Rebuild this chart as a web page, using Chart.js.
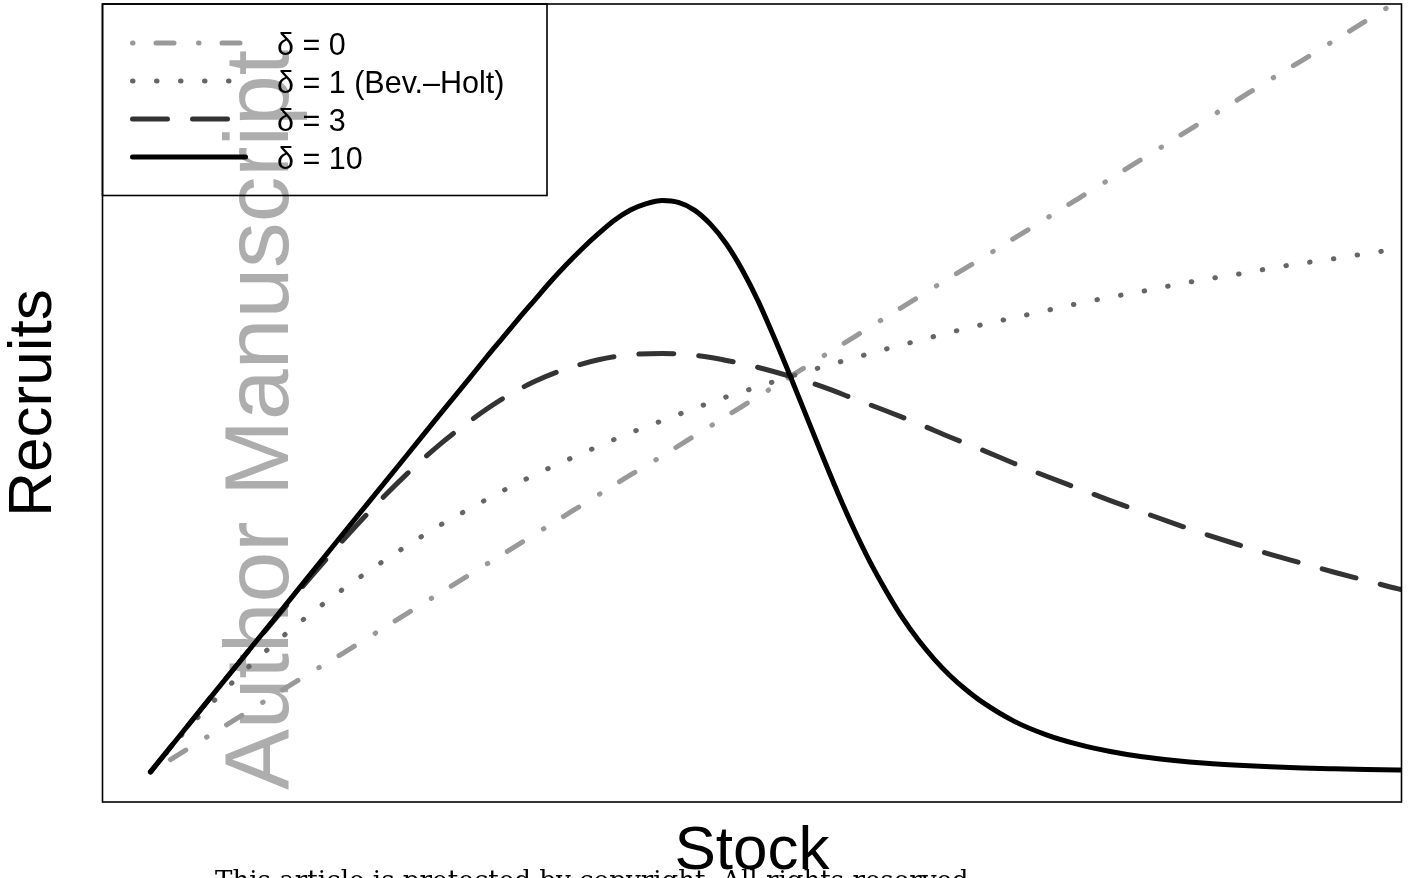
<!DOCTYPE html>
<html><head><meta charset="utf-8">
<script src="https://cdn.jsdelivr.net/npm/chart.js@4.4.1/dist/chart.umd.min.js"></script>
<style>html,body{margin:0;padding:0;background:#fff;overflow:hidden}canvas{display:block}</style>
</head><body>
<canvas id="c" width="1410" height="878"></canvas>
<script>
// Stock (x) in arbitrary units; recruits (y) for each delta
const stock = [0,0.5,1,1.5,2,2.5,3,3.5,4,4.5,5,5.5,6,6.5,7,7.5,8,8.5,9,9.5,10,10.5,11,11.5,12,12.5,13,13.5,14,14.5,15,15.5,16,16.5,17,17.5,18,18.5,19,19.5,19.6];
const rDelta0 = [0,0.31,0.62,0.93,1.24,1.55,1.85,2.16,2.47,2.78,3.09,3.40,3.71,4.02,4.33,4.64,4.94,5.25,5.56,5.87,6.18,6.49,6.80,7.11,7.42,7.73,8.03,8.34,8.65,8.96,9.27,9.58,9.89,10.20,10.51,10.82,11.12,11.43,11.74,12.05,12.11];
const rDelta1 = [0,0.59,1.12,1.61,2.06,2.47,2.85,3.20,3.53,3.84,4.12,4.39,4.64,4.87,5.09,5.30,5.49,5.68,5.86,6.02,6.18,6.33,6.47,6.61,6.74,6.87,6.99,7.10,7.21,7.32,7.42,7.51,7.61,7.70,7.78,7.87,7.95,8.02,8.10,8.17,8.18];
const rDelta3 = [0,0.62,1.24,1.85,2.45,3.04,3.61,4.15,4.65,5.10,5.49,5.83,6.10,6.30,6.44,6.52,6.54,6.51,6.43,6.32,6.18,6.02,5.83,5.64,5.44,5.23,5.03,4.82,4.62,4.43,4.24,4.06,3.88,3.71,3.55,3.40,3.26,3.12,2.99,2.86,2.84];
// the steep delta = 10 curve is read at a finer stock spacing
const stock10 = [0,1,2,3,4,4.5,5,5.25,5.5,5.75,6,6.25,6.5,6.75,7,7.25,7.5,7.75,8,8.25,8.5,8.75,9,9.25,9.5,9.75,10,10.25,10.5,10.75,11,11.25,11.5,11.75,12,12.25,12.5,12.75,13,13.5,14,14.5,15,15.5,16,16.5,17,17.5,18,18.5,19,19.5,19.6];
const rDelta10 = [0,1.24,2.47,3.71,4.94,5.56,6.17,6.48,6.78,7.08,7.37,7.66,7.93,8.18,8.41,8.62,8.78,8.88,8.93,8.90,8.78,8.56,8.25,7.84,7.35,6.78,6.18,5.56,4.94,4.34,3.78,3.27,2.82,2.41,2.06,1.76,1.50,1.28,1.09,0.79,0.58,0.43,0.32,0.236,0.178,0.135,0.104,0.080,0.062,0.049,0.038,0.030,0.029];
const seriesLabels = ['\u03b4 = 0', '\u03b4 = 1 (Bev.\u2013Holt)', '\u03b4 = 3', '\u03b4 = 10'];
const xTitle = 'Stock';
const yTitle = 'Recruits';
const watermarkText = 'Author Manuscript';
const copyrightText = 'This article is protected by copyright. All rights reserved.';

const seriesX = [stock, stock, stock, stock10];
const seriesValues = [rDelta0, rDelta1, rDelta3, rDelta10];
const seriesStyle = [
  {color:'#999999', dash:[0.5,23,18,24.5], order:3},
  {color:'#666666', dash:[0.5,23.5], order:2},
  {color:'#333333', dash:[35,25], order:1},
  {color:'#000000', dash:[], order:0}
];

function toPoints(xs, ys){ return xs.map((x,i)=>({x:x, y:ys[i]})); }

const SANS = '"Liberation Sans", Arial, Helvetica, sans-serif';

const watermarkPlugin = {
  id:'watermark',
  beforeDatasetsDraw(chart){
    const ctx = chart.ctx;
    ctx.save();
    ctx.font = '100px ' + SANS;
    const w = ctx.measureText(watermarkText).width;
    const size = 100 * 740 / w;
    ctx.font = size.toFixed(2) + 'px ' + SANS;
    ctx.fillStyle = '#adadad';
    ctx.translate(288, 790);
    ctx.rotate(-Math.PI/2);
    ctx.textAlign = 'left';
    ctx.textBaseline = 'alphabetic';
    ctx.fillText(watermarkText, 0, 0);
    ctx.restore();
  }
};

const framePlugin = {
  id:'frame',
  afterDraw(chart){
    const ctx = chart.ctx;
    const ca = chart.chartArea;
    ctx.save();
    // plot box
    ctx.strokeStyle = '#000';
    ctx.lineWidth = 1.6;
    ctx.setLineDash([]);
    ctx.strokeRect(ca.left, ca.top, ca.right - ca.left, ca.bottom - ca.top);
    // legend box
    ctx.strokeRect(ca.left, ca.top, 547 - ca.left, 195.5 - ca.top);
    // legend entries
    const rows = [43, 81, 119, 157];
    chart.data.datasets.forEach((ds, i) => {
      const y = rows[i];
      ctx.beginPath();
      ctx.strokeStyle = ds.borderColor;
      ctx.lineWidth = ds.borderWidth;
      ctx.lineCap = 'round';
      ctx.setLineDash(ds.borderDash || []);
      ctx.lineDashOffset = 0;
      ctx.moveTo(132.5, y);
      ctx.lineTo(245.5, y);
      ctx.stroke();
      ctx.setLineDash([]);
      ctx.fillStyle = '#000';
      ctx.font = '30.5px ' + SANS;
      ctx.textAlign = 'left';
      ctx.textBaseline = 'alphabetic';
      ctx.fillText(ds.label, 277, y + 11.5);
    });
    // axis titles
    ctx.fillStyle = '#000';
    ctx.font = '62px ' + SANS;
    ctx.textAlign = 'center';
    ctx.textBaseline = 'alphabetic';
    ctx.fillText(xTitle, (ca.left + ca.right) / 2, 869);
    ctx.save();
    ctx.translate(51, (ca.top + ca.bottom) / 2);
    ctx.rotate(-Math.PI/2);
    ctx.fillText(yTitle, 0, 0);
    ctx.restore();
    // copyright note
    const SERIF = '"DejaVu Serif", "Liberation Serif", serif';
    ctx.font = '100px ' + SERIF;
    const cw = ctx.measureText(copyrightText).width;
    const cs = 100 * 762 / cw;
    ctx.font = cs.toFixed(2) + 'px ' + SERIF;
    const asc = ctx.measureText('T').actualBoundingBoxAscent;
    ctx.textAlign = 'left';
    ctx.fillText(copyrightText, 215, 870 + asc);
    ctx.restore();
  }
};

new Chart(document.getElementById('c'), {
  type: 'line',
  data: {
    datasets: seriesValues.map((vals, i) => ({
      label: seriesLabels[i],
      data: toPoints(seriesX[i], vals),
      borderColor: seriesStyle[i].color,
      borderDash: seriesStyle[i].dash,
      borderWidth: 5,
      borderCapStyle: 'round',
      borderJoinStyle: 'round',
      cubicInterpolationMode: 'monotone',
      pointRadius: 0,
      fill: false,
      clip: 0,
      order: seriesStyle[i].order
    }))
  },
  options: {
    responsive: false,
    animation: false,
    devicePixelRatio: 1,
    layout: { padding: { left: 102.5, right: 8.5, top: 4, bottom: 76 } },
    scales: {
      x: { type: 'linear', min: -0.75, max: 19.55, display: false },
      y: { type: 'linear', min: -0.47, max: 12.0, display: false }
    },
    plugins: { legend: { display: false }, tooltip: { enabled: false } },
    events: []
  },
  plugins: [watermarkPlugin, framePlugin]
});
</script>
</body></html>
